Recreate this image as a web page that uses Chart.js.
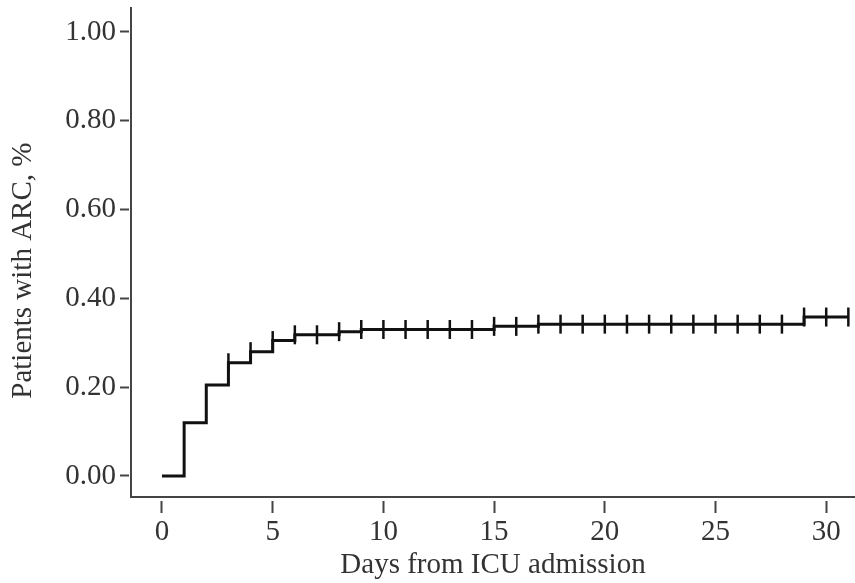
<!DOCTYPE html>
<html>
<head>
<meta charset="utf-8">
<script src="https://cdn.jsdelivr.net/npm/chart.js@4.4.0/dist/chart.umd.min.js"></script>
<style>
    html, body { margin: 0; padding: 0; background: #fff; }
    #wrap { width: 855px; height: 583px; }
</style>
</head>
<body>
<div id="wrap"><canvas id="kmChart" width="855" height="583"></canvas></div>
<script>
// Cumulative incidence curve: day of each step and proportion after it
const stepDays = [0, 1, 2, 3, 4, 5, 6, 8, 9, 15, 17, 29, 31];
const stepValues = [0, 0.12, 0.205, 0.255, 0.28, 0.305, 0.318, 0.325, 0.33, 0.337, 0.342, 0.358, 0.358];

// Censored observations (vertical tick marks)
const censorDays = [3, 4, 5, 6, 7, 8, 9, 10, 11, 12, 13, 14, 15, 16, 17, 18, 19, 20,
    21, 22, 23, 24, 25, 26, 27, 28, 29, 30, 31];

const xTicks = [0, 5, 10, 15, 20, 25, 30];
const yTicks = [0, 0.2, 0.4, 0.6, 0.8, 1.0];

const serif = '"Liberation Serif", "Times New Roman", serif';
const axisColor = '#444';
const textColor = '#333';

// value of the step curve at a given day
function valueAt(day) {
    let v = stepValues[0];
    for (let i = 0; i < stepDays.length; i++) {
        if (stepDays[i] <= day) v = stepValues[i];
    }
    return v;
}

const curve = stepDays.map((d, i) => ({ x: d, y: stepValues[i] }));
const censored = censorDays.map(d => ({ x: d, y: valueAt(d) }));

const ctx = document.getElementById('kmChart').getContext('2d');
new Chart(ctx, {
    type: 'line',
    data: {
        datasets: [
            {
                label: 'ARC',
                data: curve,
                stepped: 'before',
                borderColor: '#111',
                borderWidth: 3,
                pointRadius: 0,
                fill: false,
                tension: 0
            },
            {
                label: 'Censored',
                data: censored,
                showLine: false,
                pointStyle: 'line',
                rotation: 90,
                pointRadius: 9.5,
                pointBorderWidth: 2.5,
                pointBorderColor: '#111',
                borderColor: '#111',
                clip: false
            }
        ]
    },
    options: {
        responsive: false,
        animation: false,
        devicePixelRatio: 1,
        layout: {
            autoPadding: false,
            padding: { top: 8, right: 0, bottom: 0, left: 0 }
        },
        plugins: {
            legend: { display: false },
            tooltip: { enabled: false }
        },
        scales: {
            x: {
                type: 'linear',
                min: -1.4,
                max: 31.3,
                afterBuildTicks: s => { s.ticks = xTicks.map(v => ({ value: v })); },
                afterFit: s => {
                    s.height = 86;
                    s.paddingLeft = 0;
                    s.paddingRight = 0;
                },
                ticks: {
                    font: { family: serif, size: 29 },
                    color: textColor,
                    padding: 2,
                    maxRotation: 0,
                    autoSkip: false
                },
                grid: {
                    drawOnChartArea: false,
                    drawTicks: true,
                    tickLength: 16,
                    tickColor: axisColor,
                    tickWidth: 2,
                    tickBorderDash: [0, 3, 13, 100]
                },
                border: { display: true, color: axisColor, width: 2 },
                title: {
                    display: true,
                    text: 'Days from ICU admission',
                    font: { family: serif, size: 29 },
                    color: textColor,
                    padding: { top: 0, bottom: 0 }
                }
            },
            y: {
                min: -0.0473,
                max: 1.054,
                afterBuildTicks: s => { s.ticks = yTicks.map(v => ({ value: v })); },
                afterFit: s => {
                    s.width = 131;
                    s.paddingTop = 0;
                    s.paddingBottom = 0;
                },
                ticks: {
                    font: { family: serif, size: 29 },
                    color: textColor,
                    padding: 4,
                    callback: v => Number(v).toFixed(2)
                },
                grid: {
                    drawOnChartArea: false,
                    drawTicks: true,
                    tickLength: 11,
                    tickColor: axisColor,
                    tickWidth: 2,
                    tickBorderDash: [9, 100]
                },
                border: { display: true, color: axisColor, width: 2 },
                title: {
                    display: true,
                    // trailing spaces push the label a little below the axis centre, as in the source
                    text: 'Patients with ARC, %     ',
                    font: { family: serif, size: 29 },
                    color: textColor,
                    padding: { top: 6, bottom: 6 }
                }
            }
        }
    }
});
</script>
</body>
</html>
